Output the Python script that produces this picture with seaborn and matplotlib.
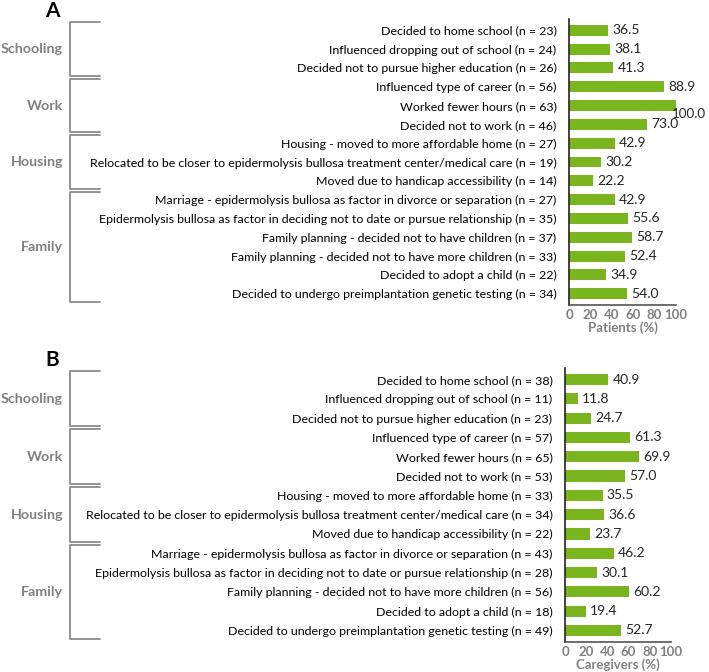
import matplotlib
matplotlib.use("Agg")
import matplotlib.pyplot as plt
import seaborn as sns
import pandas as pd
from matplotlib.lines import Line2D

sns.set_theme(style="white")
plt.rcParams["font.family"] = ["Lato", "DejaVu Sans"]

# Dados - painel A (pacientes)
grupos_a = ["Schooling"] * 3 + ["Work"] * 3 + ["Housing"] * 3 + ["Family"] * 6
itens_a = [
    "Decided to home school (n = 23)",
    "Influenced dropping out of school (n = 24)",
    "Decided not to pursue higher education (n = 26)",
    "Influenced type of career (n = 56)",
    "Worked fewer hours (n = 63)",
    "Decided not to work (n = 46)",
    "Housing - moved to more affordable home (n = 27)",
    "Relocated to be closer to epidermolysis bullosa treatment center/medical care (n = 19)",
    "Moved due to handicap accessibility (n = 14)",
    "Marriage - epidermolysis bullosa as factor in divorce or separation (n = 27)",
    "Epidermolysis bullosa as factor in deciding not to date or pursue relationship (n = 35)",
    "Family planning - decided not to have children (n = 37)",
    "Family planning - decided not to have more children (n = 33)",
    "Decided to adopt a child (n = 22)",
    "Decided to undergo preimplantation genetic testing (n = 34)",
]
valores_a = [36.5, 38.1, 41.3, 88.9, 100.0, 73.0, 42.9, 30.2, 22.2, 42.9, 55.6, 58.7, 52.4, 34.9, 54.0]

# Dados - painel B (cuidadores)
grupos_b = ["Schooling"] * 3 + ["Work"] * 3 + ["Housing"] * 3 + ["Family"] * 5
itens_b = [
    "Decided to home school (n = 38)",
    "Influenced dropping out of school (n = 11)",
    "Decided not to pursue higher education (n = 23)",
    "Influenced type of career (n = 57)",
    "Worked fewer hours (n = 65)",
    "Decided not to work (n = 53)",
    "Housing - moved to more affordable home (n = 33)",
    "Relocated to be closer to epidermolysis bullosa treatment center/medical care (n = 34)",
    "Moved due to handicap accessibility (n = 22)",
    "Marriage - epidermolysis bullosa as factor in divorce or separation (n = 43)",
    "Epidermolysis bullosa as factor in deciding not to date or pursue relationship (n = 28)",
    "Family planning - decided not to have more children (n = 56)",
    "Decided to adopt a child (n = 18)",
    "Decided to undergo preimplantation genetic testing (n = 49)",
]
valores_b = [40.9, 11.8, 24.7, 61.3, 69.9, 57.0, 35.5, 36.6, 23.7, 46.2, 30.1, 60.2, 19.4, 52.7]

verde = "#7ab41f"
cinza = "#808080"
W, H = 709, 672

fig = plt.figure(figsize=(W / 100, H / 100), dpi=100)


def painel(rect_px, itens, valores, grupos, xlabel, letra):
    x0, y0, x1, y1 = rect_px
    ax = fig.add_axes([x0 / W, 1 - y1 / H, (x1 - x0) / W, (y1 - y0) / H])
    df = pd.DataFrame({"item": itens, "valor": valores})
    sns.barplot(data=df, y="item", x="valor", color=verde, saturation=1,
                width=0.58, ax=ax, edgecolor="none")
    n = len(itens)
    ax.set_ylim(n - 0.4, -0.6)
    ax.set_xlim(0, 100)
    ax.set_xticks([0, 20, 40, 60, 80, 100])
    ax.tick_params(axis="x", colors=cinza, labelsize=9.5, length=2.5, width=1, direction="out", pad=0.5)
    for t in ax.get_xticklabels():
        t.set_fontweight("bold")
    ax.tick_params(axis="y", length=0, labelsize=8.9, labelcolor="black", pad=9)
    ax.set_ylabel("")
    ax.set_xlabel(xlabel, color=cinza, fontsize=9.5, fontweight="bold", labelpad=0)
    for s in ["top", "right"]:
        ax.spines[s].set_visible(False)
    ax.spines["left"].set_color("#222222")
    ax.spines["bottom"].set_color("#555555")
    ax.spines["left"].set_linewidth(1.2)
    ax.spines["bottom"].set_linewidth(1.2)

    # rótulos dos valores (o de 100 fica abaixo, à direita)
    for i, v in enumerate(valores):
        if v >= 100:
            ax.annotate(f"{v:.1f}", (v, i), xytext=(-3, -6), textcoords="offset points",
                        va="center", ha="left", fontsize=9.6)
        else:
            ax.annotate(f"{v:.1f}", (v, i), xytext=(3, 0), textcoords="offset points",
                        va="center", ha="left", fontsize=10)

    # colchetes dos grupos
    fig.canvas.draw()
    inv = fig.transFigure.inverted()
    ordem = list(dict.fromkeys(grupos))
    for g in ordem:
        idx = [i for i, gg in enumerate(grupos) if gg == g]
        ya = inv.transform(ax.transData.transform((0, idx[0] - 0.5)))[1] - 1.5 / H
        yb = inv.transform(ax.transData.transform((0, idx[-1] + 0.5)))[1] + 1.5 / H
        xv, xh = 70 / W, 100 / W
        fig.add_artist(Line2D([xh, xv, xv, xh], [ya, ya, yb, yb], color="#8a8a8a", lw=1.3))
        fig.text(63 / W, (ya + yb) / 2, g, ha="right", va="center", color=cinza,
                 fontsize=10.3, fontweight="bold")
    fig.text(52 / W, 1 - (y0 - 18) / H, letra, ha="center", va="top",
             fontsize=15, fontweight="bold", color="black")
    return ax


painel((569, 19, 676, 305), itens_a, valores_a, grupos_a, "Patients (%)", "A")
painel((565, 368, 671, 642), itens_b, valores_b, grupos_b, "Caregivers (%)", "B")

fig.savefig("out.png", dpi=100)
